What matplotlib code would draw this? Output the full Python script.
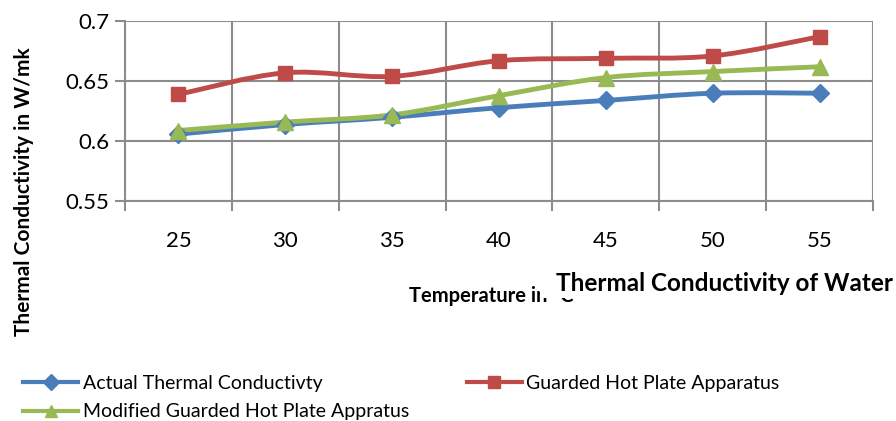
import matplotlib.pyplot as plt
from matplotlib.path import Path
from matplotlib.patches import PathPatch, Rectangle
from matplotlib.lines import Line2D
import numpy as np

plt.rcParams['font.family'] = ['Lato', 'DejaVu Sans']

temperatures = ['25', '30', '35', '40', '45', '50', '55']
actual = [0.606, 0.614, 0.620, 0.628, 0.634, 0.640, 0.640]
guarded = [0.639, 0.657, 0.654, 0.667, 0.669, 0.671, 0.687]
modified = [0.609, 0.616, 0.622, 0.638, 0.653, 0.658, 0.662]

series = [
    ('Actual Thermal Conductivty', actual, '#4a7ebb', 'D', 9),
    ('Guarded Hot Plate Apparatus', guarded, '#be4b48', 's', 10),
    ('Modified Guarded Hot Plate Appratus', modified, '#98b954', '^', 11),
]


def smooth_path(x, y):
    """Excel-like smoothed line as cubic bezier segments through the points."""
    pts = np.column_stack([x, y])
    verts = [pts[0]]
    codes = [Path.MOVETO]
    n = len(pts)
    for i in range(n - 1):
        p0 = pts[max(i - 1, 0)]
        p1 = pts[i]
        p2 = pts[i + 1]
        p3 = pts[min(i + 2, n - 1)]
        c1 = p1 + (p2 - p0) / 6.0
        c2 = p2 - (p3 - p1) / 6.0
        verts += [c1, c2, p2]
        codes += [Path.CURVE4] * 3
    return Path(verts, codes)


fig = plt.figure(figsize=(8.96, 4.21), dpi=100)
ax = fig.add_axes([0.1395, 0.5214, 0.8348, 0.4286])

x = np.arange(len(temperatures))
handles = {}
for name, vals, color, marker, ms in series:
    patch = PathPatch(smooth_path(x, vals), facecolor='none', edgecolor=color,
                      linewidth=3.5, zorder=3, capstyle='round')
    ax.add_patch(patch)
    ax.plot(x, vals, linestyle='none', marker=marker, markersize=ms,
            color=color, zorder=4)
    handles[name] = Line2D([], [], color=color, linewidth=3, marker=marker,
                           markersize=ms * 0.85, label=name)

ax.set_xlim(-0.5, len(temperatures) - 0.5)
ax.set_ylim(0.55, 0.7)
ax.set_yticks([0.55, 0.6, 0.65, 0.7])
ax.set_yticklabels(['0.55', '0.6', '0.65', '0.7'])
ax.set_xticks(x)
ax.set_xticklabels(temperatures)
ax.set_xticks(np.arange(-0.5, len(temperatures)), minor=True)

grid_color = '#8c8c8c'
ax.grid(True, which='minor', axis='x', color=grid_color, linewidth=1.5)
ax.grid(True, which='major', axis='y', color=grid_color, linewidth=1.5)
ax.tick_params(axis='x', which='major', length=0, labelsize=16, pad=21)
ax.tick_params(axis='x', which='minor', length=7, width=1.5, color=grid_color)
ax.tick_params(axis='y', length=7, width=1.5, color=grid_color, labelsize=16, pad=4)
for side in ['top', 'right']:
    ax.spines[side].set_visible(False)
for side in ['left', 'bottom']:
    ax.spines[side].set_color(grid_color)
    ax.spines[side].set_linewidth(1.5)

fig.text(0.027, 0.546, 'Thermal Conductivity in W/mk', rotation=90,
         fontsize=15, fontweight='bold', ha='center', va='center')
fig.text(0.457, 0.297, 'Temperature in \u02daC', fontsize=14.5,
         fontweight='bold', ha='left', va='center')
# the chart title box sits over the end of the axis title
fig.patches.append(Rectangle((0.603, 0.292), 0.397, 0.073,
                             transform=fig.transFigure, facecolor='white',
                             edgecolor='none', zorder=5))
fig.text(0.62, 0.327, 'Thermal Conductivity of Water', fontsize=17.5,
         fontweight='bold', ha='left', va='center', zorder=6)

# legend fills column by column, so order entries to read row by row
order = ['Actual Thermal Conductivty', 'Modified Guarded Hot Plate Appratus',
         'Guarded Hot Plate Apparatus']
fig.legend(handles=[handles[k] for k in order], loc='upper left',
           bbox_to_anchor=(0.026, 0.11), ncol=2, frameon=False, fontsize=14,
           handlelength=2.8, handletextpad=0.25, columnspacing=3.0,
           labelspacing=0.6, borderaxespad=0, borderpad=0)

fig.savefig('out.png', dpi=100)
